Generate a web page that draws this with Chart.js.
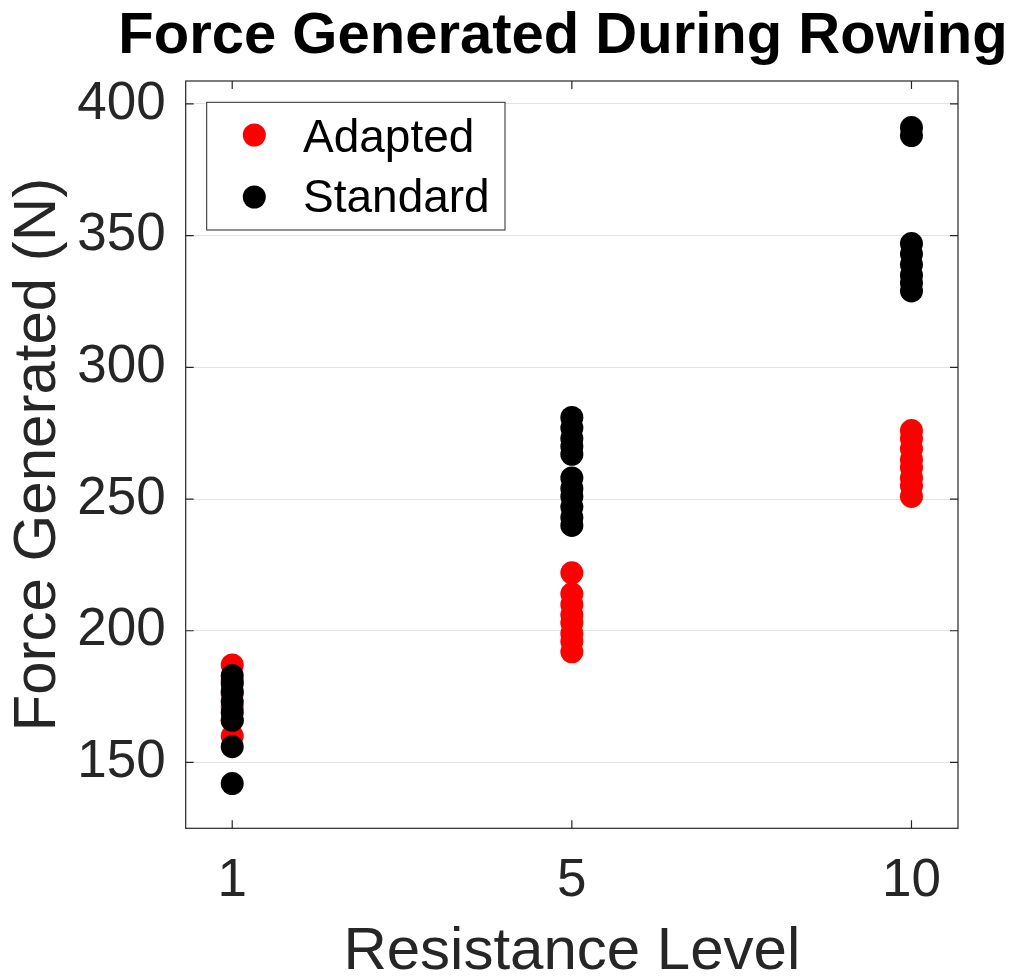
<!DOCTYPE html>
<html>
<head>
<meta charset="utf-8">
<script src="https://cdn.jsdelivr.net/npm/chart.js@4.4.1/dist/chart.umd.min.js"></script>
<style>
  body { margin: 0; background: #fff; }
  canvas { display: block; }
</style>
</head>
<body>
<canvas id="myChart" width="1016" height="979"></canvas>
<script>
var levels = ['1', '5', '10']
var yTicks = [150, 200, 250, 300, 350, 400]

var adapted1 = [187, 181, 176, 171, 166, 160]
var adapted5 = [222, 214, 210, 206, 203, 199, 196, 192]
var adapted10 = [276, 273, 269, 265, 262, 258, 255, 251]

var standard1 = [183, 180, 177, 173, 169, 166, 156, 142]
var standard5 = [281, 277, 273, 270, 267, 258, 254, 251, 247, 243, 240]
var standard10 = [391, 388, 347, 343, 339, 335, 332, 329]

var FONT = '"Liberation Sans", Arial, Helvetica, sans-serif'
var AXIS = '#262626'

// one point per trial, x is the index of the resistance level
function toPoints(groups) {
  var pts = []
  groups.forEach(function (vals, i) {
    vals.forEach(function (v) {
      pts.push({ x: i, y: v })
    })
  })
  return pts
}

// box, inward ticks, legend and title
var decorations = {
  id: 'decorations',
  afterDraw: function (chart) {
    var ctx = chart.ctx
    var a = chart.chartArea
    var xs = chart.scales.x
    var ys = chart.scales.y
    ctx.save()
    ctx.strokeStyle = AXIS
    ctx.lineWidth = 1.2
    ctx.strokeRect(a.left, a.top, a.right - a.left, a.bottom - a.top)

    ctx.beginPath()
    xs.ticks.forEach(function (t) {
      var px = xs.getPixelForValue(t.value)
      ctx.moveTo(px, a.bottom); ctx.lineTo(px, a.bottom - 8)
      ctx.moveTo(px, a.top); ctx.lineTo(px, a.top + 8)
    })
    ys.ticks.forEach(function (t) {
      var py = ys.getPixelForValue(t.value)
      ctx.moveTo(a.left, py); ctx.lineTo(a.left + 8, py)
      ctx.moveTo(a.right, py); ctx.lineTo(a.right - 8, py)
    })
    ctx.stroke()

    // legend
    var lx = 206.7, ly = 102.3, lw = 298.3, lh = 127.7
    ctx.fillStyle = '#fff'
    ctx.fillRect(lx, ly, lw, lh)
    ctx.strokeStyle = AXIS
    ctx.lineWidth = 1
    ctx.strokeRect(lx, ly, lw, lh)
    var rows = [135, 197]
    var textRows = [139, 199]
    ctx.font = '46px ' + FONT
    ctx.textAlign = 'left'
    ctx.textBaseline = 'middle'
    chart.data.datasets.forEach(function (ds, i) {
      ctx.fillStyle = ds.backgroundColor
      ctx.beginPath()
      ctx.arc(254.3, rows[i], 11.5, 0, Math.PI * 2)
      ctx.fill()
      ctx.fillStyle = '#000'
      ctx.fillText(ds.label, 303, textRows[i])
    })

    // title
    ctx.font = 'bold 58px ' + FONT
    ctx.textAlign = 'center'
    ctx.fillStyle = '#000'
    ctx.fillText('Force Generated During Rowing', 563, 37)
    ctx.restore()
  },
}

function generateGraph() {
  var ctx = document.getElementById('myChart').getContext('2d')
  new Chart(ctx, {
    type: 'scatter',
    data: {
      datasets: [
        {
          label: 'Adapted',
          data: toPoints([adapted1, adapted5, adapted10]),
          backgroundColor: '#ff0000',
          borderWidth: 0,
          pointRadius: 11.5,
          order: 2,
        },
        {
          label: 'Standard',
          data: toPoints([standard1, standard5, standard10]),
          backgroundColor: '#000000',
          borderWidth: 0,
          pointRadius: 11.5,
          order: 1,
        },
      ],
    },
    options: {
      responsive: false,
      animation: false,
      devicePixelRatio: 1,
      layout: { padding: { top: 81, right: 58, left: 0, bottom: 0 } },
      plugins: {
        legend: { display: false },
        title: { display: false },
        tooltip: { enabled: false },
      },
      scales: {
        x: {
          type: 'linear',
          min: -0.137,
          max: 2.137,
          afterBuildTicks: function (scale) {
            scale.ticks = levels.map(function (l, i) { return { value: i } })
          },
          afterFit: function (scale) { scale.height = 150.7 },
          grid: { display: false, drawTicks: false },
          border: { display: false },
          ticks: {
            callback: function (v) { return levels[v] },
            font: { family: FONT, size: 53 },
            color: AXIS,
            padding: 21,
            maxRotation: 0,
            autoSkip: false,
          },
          title: {
            display: true,
            text: 'Resistance Level',
            font: { family: FONT, size: 60, lineHeight: 0.9 },
            color: AXIS,
            padding: { top: 0, bottom: 0 },
          },
        },
        y: {
          min: 125,
          max: 408.7,
          afterBuildTicks: function (scale) {
            scale.ticks = yTicks.map(function (v) { return { value: v } })
          },
          afterFit: function (scale) { scale.width = 185.7 },
          grid: { color: '#e3e3e3', drawTicks: false, lineWidth: 1 },
          border: { display: false },
          ticks: {
            font: { family: FONT, size: 53 },
            color: AXIS,
            padding: 20,
          },
          title: {
            display: true,
            text: 'Force Generated (N)',
            font: { family: FONT, size: 60, lineHeight: 0.9 },
            color: AXIS,
            padding: { top: 11, bottom: 0 },
          },
        },
      },
    },
    plugins: [decorations],
  })
}

generateGraph()
</script>
</body>
</html>
